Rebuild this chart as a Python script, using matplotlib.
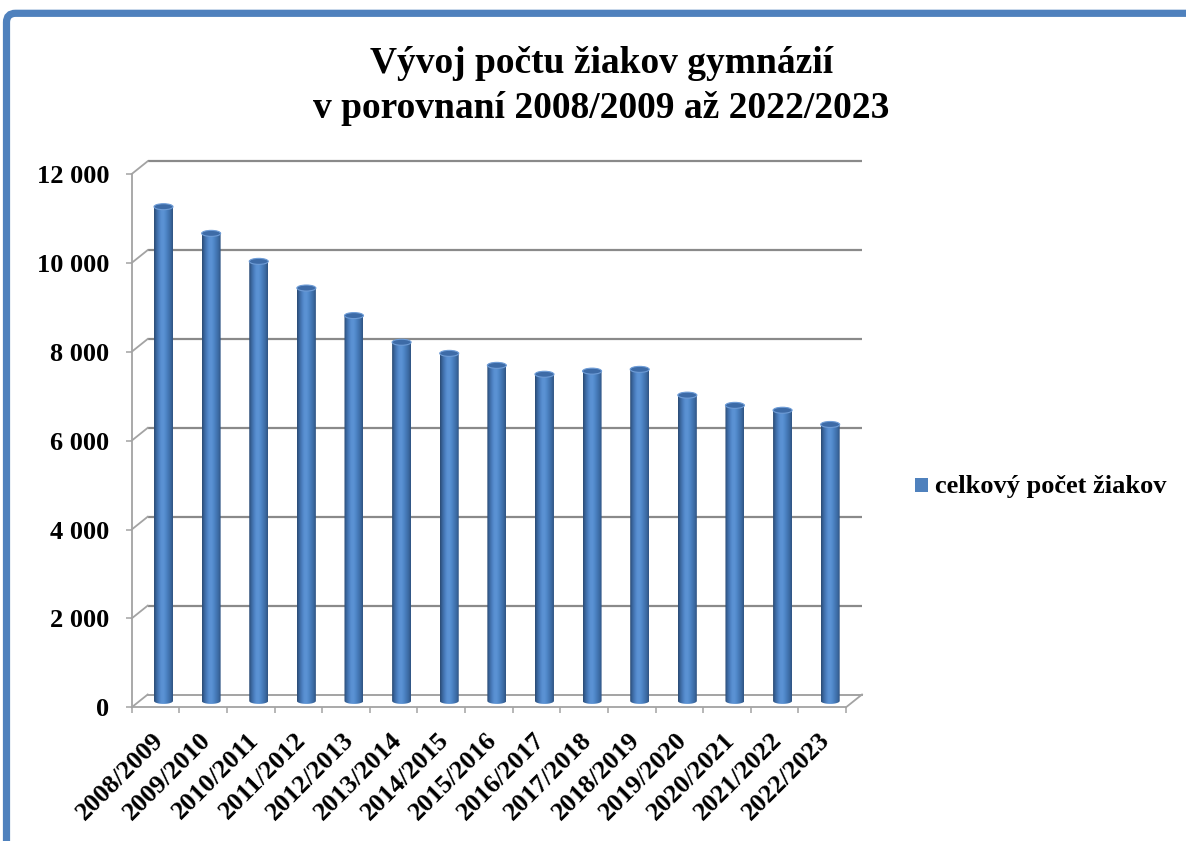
import numpy as np
import matplotlib
matplotlib.use('Agg')
import matplotlib.pyplot as plt
import matplotlib.transforms as mtransforms
from matplotlib.patches import Ellipse, Rectangle, FancyBboxPatch, PathPatch
from matplotlib.path import Path
from matplotlib.colors import to_rgb
from matplotlib.ticker import FixedLocator

# ---------------- data ----------------
categories = ["2008/2009", "2009/2010", "2010/2011", "2011/2012", "2012/2013",
              "2013/2014", "2014/2015", "2015/2016", "2016/2017", "2017/2018",
              "2018/2019", "2019/2020", "2020/2021", "2021/2022", "2022/2023"]
values = [11120, 10520, 9890, 9290, 8670, 8070, 7820, 7550, 7350, 7420,
          7460, 6880, 6650, 6540, 6220]
yticks = [0, 2000, 4000, 6000, 8000, 10000, 12000]
ytick_labels = ["0", "2 000", "4 000", "6 000", "8 000", "10 000", "12 000"]
title_lines = ["Vývoj počtu žiakov gymnázií", "v porovnaní 2008/2009 až 2022/2023"]
legend_label = "celkový počet žiakov"

# ---------------- style ----------------
FONT = "Liberation Serif"
W, H = 1186, 841
BLUE = "#4F81BD"
GRID = "#8a8a8a"
AXC = "#a3a3a3"

fig = plt.figure(figsize=(W / 100, H / 100), dpi=100)
fig.patch.set_facecolor("white")

# outer frame (top + left blue border with rounded corner)
border = FancyBboxPatch((6.5 / 100, -1.0), 20, (H - 13.3) / 100 + 1.0,
                        boxstyle="round,pad=0,rounding_size=0.09",
                        transform=fig.dpi_scale_trans, facecolor="none",
                        edgecolor=BLUE, lw=5.2)
fig.patches.append(border)

# plot area = front plane of the 3D box
x0p, x1p, y0p, y1p = 131.7, 846.0, 707.3, 174.0
ax = fig.add_axes([x0p / W, 1 - y0p / H, (x1p - x0p) / W, (y0p - y1p) / H])
n = len(categories)
ymax = yticks[-1]
px_per_cat = (x1p - x0p) / n
px_per_unit = (y0p - y1p) / ymax
DX = 16.0 / px_per_cat
DY = 12.8 / px_per_unit

# back wall gridlines + side wall diagonals
for v in yticks:
    if v == 0:
        continue
    ax.plot([DX, n + DX], [v + DY, v + DY], color=GRID, lw=1.6, clip_on=False,
            solid_capstyle="butt", zorder=1)
    ax.plot([0, DX], [v, v + DY], color=AXC, lw=1.3, clip_on=False, zorder=1)
# floor
ax.plot([DX, n + DX], [DY, DY], color=AXC, lw=1.4, clip_on=False, zorder=1)
ax.plot([0, DX], [0, DY], color=AXC, lw=1.3, clip_on=False, zorder=1)
ax.plot([n, n + DX], [0, DY], color=AXC, lw=1.3, clip_on=False, zorder=1)

# cylinder bars
stops = ["#2B4A73", "#3A669E", "#4A7DBD", "#5990D2", "#5C93D4", "#5088C9",
         "#4578B6", "#3B6AA2", "#2F5482"]
stop_rgb = np.array([to_rgb(c) for c in stops])
xs = np.linspace(0, 1, len(stops))
xi = np.linspace(0, 1, 80)
grad = np.stack([np.interp(xi, xs, stop_rgb[:, k]) for k in range(3)], axis=-1)[None, :, :]

bw = 19.0 / px_per_cat
eh = 6.0 / px_per_unit
base = DY / 2
t = np.linspace(np.pi, 2 * np.pi, 40)
for i, v in enumerate(values):
    xc = i + 0.5 + DX / 2
    xl, xr = xc - bw / 2, xc + bw / 2
    verts = [(xl, base + v), (xl, base)]
    verts += [(xc + bw / 2 * np.cos(a), base + eh / 2 * np.sin(a)) for a in t]
    verts += [(xr, base + v), (xl, base + v)]
    codes = [Path.MOVETO] + [Path.LINETO] * (len(verts) - 2) + [Path.CLOSEPOLY]
    patch = PathPatch(Path(verts, codes), facecolor="none", edgecolor="none",
                      transform=ax.transData)
    ax.add_patch(patch)
    im = ax.imshow(grad, extent=[xl, xr, base - eh / 2, base + v], aspect="auto",
                   interpolation="bilinear", zorder=3)
    im.set_clip_path(patch)
    im.set_clip_on(True)
    top = Ellipse((xc, base + v), bw, eh, facecolor="#3D6BA7",
                  edgecolor="#6E9CD6", lw=0.8, zorder=4)
    ax.add_patch(top)

ax.set_xlim(0, n)
ax.set_ylim(0, ymax)
ax.set_facecolor("none")

# axes / ticks
for s in ["top", "right"]:
    ax.spines[s].set_visible(False)
for s in ["left", "bottom"]:
    ax.spines[s].set_color(AXC)
    ax.spines[s].set_linewidth(1.3)
ax.set_yticks(yticks)
ax.set_yticklabels(ytick_labels)
ax.tick_params(axis="y", direction="out", length=4.5, width=1.1, color=AXC, pad=11.5)
ax.set_xticks(np.arange(n) + 0.5)
ax.set_xticklabels(categories, rotation=45, ha="right", va="top",
                   rotation_mode="anchor")
ax.tick_params(axis="x", which="major", length=0, pad=15)
ax.xaxis.set_minor_locator(FixedLocator(np.arange(n + 1)))
ax.tick_params(axis="x", which="minor", direction="out", length=4.5, width=1.1, color=AXC)
shift = mtransforms.ScaledTranslation(-4 / 100, 0, fig.dpi_scale_trans)
for lab in ax.get_xticklabels():
    lab.set_transform(lab.get_transform() + shift)
for lab in ax.get_xticklabels() + ax.get_yticklabels():
    lab.set_fontfamily(FONT)
    lab.set_fontweight("bold")
    lab.set_fontsize(19)
    lab.set_color("black")

# title
fig.text(601.5 / W, 1 - 72.7 / H, title_lines[0], ha="center", va="baseline",
         fontfamily=FONT, fontweight="bold", fontsize=27)
fig.text(601.5 / W, 1 - 118.3 / H, title_lines[1], ha="center", va="baseline",
         fontfamily=FONT, fontweight="bold", fontsize=27)

# legend
fig.patches.append(Rectangle((915 / W, 1 - 492 / H), 13 / W, 14 / H,
                             transform=fig.transFigure, facecolor=BLUE,
                             edgecolor="none"))
fig.text(935 / W, 1 - 486 / H, legend_label, ha="left", va="center",
         fontfamily=FONT, fontweight="bold", fontsize=19)

fig.savefig("out.png", dpi=100, facecolor="white")
